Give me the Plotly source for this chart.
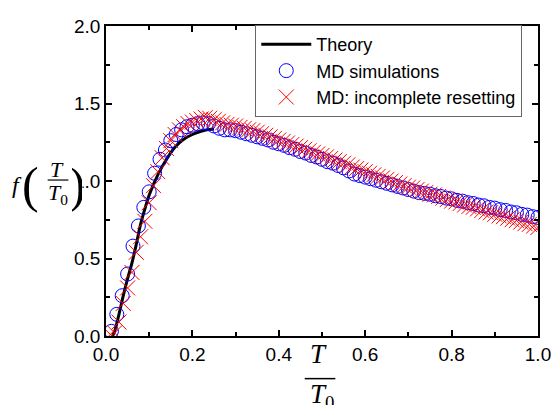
import plotly.graph_objects as go

# blue circles: MD simulations
md_x = [0.0125, 0.025, 0.0375, 0.05, 0.0625, 0.075, 0.0875, 0.1, 0.1125, 0.125,
        0.1375, 0.15, 0.1625, 0.175, 0.1875, 0.2, 0.2125, 0.225, 0.2375, 0.25,
        0.2625, 0.275, 0.2875, 0.3, 0.3125, 0.325, 0.3375, 0.35, 0.3625, 0.375,
        0.3875, 0.4, 0.4125, 0.425, 0.4375, 0.45, 0.4625, 0.475, 0.4875, 0.5,
        0.5125, 0.525, 0.5375, 0.55, 0.5625, 0.575, 0.5875, 0.6, 0.6125, 0.625,
        0.6375, 0.65, 0.6625, 0.675, 0.6875, 0.7, 0.7125, 0.725, 0.7375, 0.75,
        0.7625, 0.775, 0.7875, 0.8, 0.8125, 0.825, 0.8375, 0.85, 0.8625, 0.875,
        0.8875, 0.9, 0.9125, 0.925, 0.9375, 0.95, 0.9625, 0.975, 0.9875, 1.0]
md_y = [0.03, 0.14, 0.26, 0.40, 0.58, 0.71, 0.83, 0.93, 1.05, 1.14,
        1.20, 1.26, 1.30, 1.33, 1.35, 1.36, 1.37, 1.375, 1.37, 1.355,
        1.34, 1.33, 1.33, 1.325, 1.315, 1.305, 1.295, 1.285, 1.275, 1.265,
        1.25, 1.24, 1.23, 1.215, 1.205, 1.19, 1.18, 1.165, 1.155, 1.14,
        1.125, 1.115, 1.10, 1.085, 1.065, 1.045, 1.035, 1.025, 1.015, 1.005,
        0.995, 0.985, 0.975, 0.965, 0.955, 0.945, 0.935, 0.925, 0.92, 0.915,
        0.905, 0.90, 0.89, 0.885, 0.875, 0.87, 0.86, 0.855, 0.845, 0.84,
        0.83, 0.825, 0.815, 0.81, 0.80, 0.795, 0.785, 0.78, 0.77, 0.765]

# red crosses: MD with incomplete resetting
inc_x = [0.01, 0.02, 0.03, 0.04, 0.05, 0.06, 0.07, 0.08, 0.09, 0.10,
         0.11, 0.12, 0.13, 0.14, 0.15, 0.16, 0.17, 0.18, 0.19, 0.20,
         0.21, 0.22, 0.23, 0.24, 0.25, 0.26, 0.27, 0.28, 0.29, 0.30,
         0.31, 0.32, 0.33, 0.34, 0.35, 0.36, 0.37, 0.38, 0.39, 0.40,
         0.41, 0.42, 0.43, 0.44, 0.45, 0.46, 0.47, 0.48, 0.49, 0.50,
         0.51, 0.52, 0.53, 0.54, 0.55, 0.56, 0.57, 0.58, 0.59, 0.60,
         0.61, 0.62, 0.63, 0.64, 0.65, 0.66, 0.67, 0.68, 0.69, 0.70,
         0.71, 0.72, 0.73, 0.74, 0.75, 0.76, 0.77, 0.78, 0.79, 0.80,
         0.81, 0.82, 0.83, 0.84, 0.85, 0.86, 0.87, 0.88, 0.89, 0.90,
         0.91, 0.92, 0.93, 0.94, 0.95, 0.96, 0.97, 0.98, 0.99, 1.00]
inc_y = [0.01, 0.02, 0.09, 0.21, 0.31, 0.41, 0.54, 0.64, 0.74, 0.86,
         0.97, 1.06, 1.15, 1.21, 1.26, 1.30, 1.33, 1.35, 1.37, 1.38,
         1.39, 1.40, 1.41, 1.405, 1.395, 1.385, 1.375, 1.365, 1.36, 1.355,
         1.345, 1.34, 1.33, 1.325, 1.315, 1.305, 1.295, 1.285, 1.275, 1.265,
         1.255, 1.245, 1.235, 1.225, 1.215, 1.205, 1.195, 1.185, 1.175, 1.165,
         1.155, 1.145, 1.135, 1.125, 1.115, 1.105, 1.09, 1.08, 1.07, 1.06,
         1.05, 1.04, 1.03, 1.02, 1.01, 1.00, 0.99, 0.98, 0.97, 0.96,
         0.955, 0.945, 0.935, 0.925, 0.915, 0.91, 0.90, 0.89, 0.88, 0.87,
         0.865, 0.855, 0.845, 0.835, 0.83, 0.82, 0.81, 0.80, 0.795, 0.785,
         0.775, 0.77, 0.76, 0.75, 0.745, 0.735, 0.725, 0.72, 0.71, 0.70]

# theory curve (only drawn up to the maximum)
th_x = [0.015, 0.02, 0.03, 0.04, 0.05, 0.06, 0.07, 0.08, 0.09, 0.10,
        0.12, 0.14, 0.16, 0.18, 0.20, 0.22, 0.24, 0.25]
th_y = [0.0, 0.03, 0.14, 0.26, 0.37, 0.47, 0.59, 0.72, 0.82, 0.91,
        1.04, 1.14, 1.22, 1.27, 1.30, 1.32, 1.333, 1.335]

x_ticks = [0.0, 0.2, 0.4, 0.6, 0.8, 1.0]
y_ticks = [0.0, 0.5, 1.0, 1.5, 2.0]

# the page body has an 8px margin, so the figure is drawn 8px in
OFF = 8
W, H = 559 - OFF, 405 - OFF
L, R, T, B = 106 - OFF, 16, 16 - OFF, 69
PW, PH = W - L - R, H - T - B


# screen pixel -> paper coordinate
def px(x):
    return (x - OFF - L) / PW


def py(y):
    return (H - B - (y - OFF)) / PH


fig = go.Figure()

fig.add_trace(go.Scatter(x=th_x, y=th_y, mode="lines", name="Theory",
                         line=dict(color="black", width=3, shape="spline")))
fig.add_trace(go.Scatter(x=md_x, y=md_y, mode="markers", name="MD simulations",
                         marker=dict(symbol="circle-open", size=14, color="#0000FF",
                                     line=dict(width=1))))
fig.add_trace(go.Scatter(x=inc_x, y=inc_y, mode="markers", name="MD: incomplete resetting",
                         marker=dict(symbol="x-thin-open", size=15, color="#FF0000",
                                     line=dict(width=1, color="#FF0000"))))

axis_style = dict(showline=True, linecolor="black", linewidth=1.5, mirror="ticks",
                  ticks="inside", ticklen=6, tickwidth=1.5, tickcolor="black",
                  showgrid=False, zeroline=False, ticklabeloverflow="allow",
                  tickfont=dict(family="Liberation Sans, Arial", size=19, color="black"),
                  minor=dict(ticks="inside", ticklen=4, tickwidth=1.5, tickcolor="black"))

fig.update_xaxes(range=[0, 1], tickvals=x_ticks, ticktext=[f"{v:.1f}" for v in x_ticks],
                 minor_dtick=0.1, **axis_style)
fig.update_yaxes(range=[0, 2], tickvals=y_ticks, ticktext=[f"{v:.1f}" for v in y_ticks],
                 minor_dtick=0.25, **axis_style)

serif = "Liberation Serif, Times New Roman, serif"
ann = []
# y axis title  f(T/T0)
ann.append(dict(x=px(16), y=py(180), text="<i>f</i>", font=dict(family=serif, size=24)))
ann.append(dict(x=px(30), y=py(180), text="(", font=dict(family=serif, size=50)))
ann.append(dict(x=px(56), y=py(164), text="<i>T</i>", font=dict(family=serif, size=22)))
ann.append(dict(x=px(57), y=py(189), text="<i>T</i><sub>0</sub>", font=dict(family=serif, size=22)))
ann.append(dict(x=px(77), y=py(180), text=")", font=dict(family=serif, size=50),
                bgcolor="white", width=10, borderpad=0))
# x axis title  T/T0
ann.append(dict(x=px(321), y=py(355), text="<i>T</i>", font=dict(family=serif, size=27)))
ann.append(dict(x=px(324), y=py(398), text="<i>T</i><sub>0</sub>", font=dict(family=serif, size=27)))
for a in ann:
    a.update(xref="paper", yref="paper", showarrow=False, xanchor="center", yanchor="middle")
    a["font"]["color"] = "black"

fig.update_layout(
    width=W, height=H,
    margin=dict(l=L, r=R, t=T, b=B),
    paper_bgcolor="white", plot_bgcolor="white",
    annotations=ann,
    shapes=[
        dict(type="line", xref="paper", yref="paper", x0=px(47), x1=px(68), y0=py(175), y1=py(175),
             line=dict(color="black", width=1.2)),
        dict(type="line", xref="paper", yref="paper", x0=px(307), x1=px(338), y0=py(380), y1=py(380),
             line=dict(color="black", width=1.5)),
    ],
    legend=dict(x=px(257), y=py(15), xanchor="left", yanchor="top",
                bgcolor="white", bordercolor="#666666", borderwidth=1,
                font=dict(family="Liberation Sans, Arial", size=18, color="black"),
                itemwidth=50, tracegroupgap=0),
    showlegend=True,
)

fig.write_html("out.html")
